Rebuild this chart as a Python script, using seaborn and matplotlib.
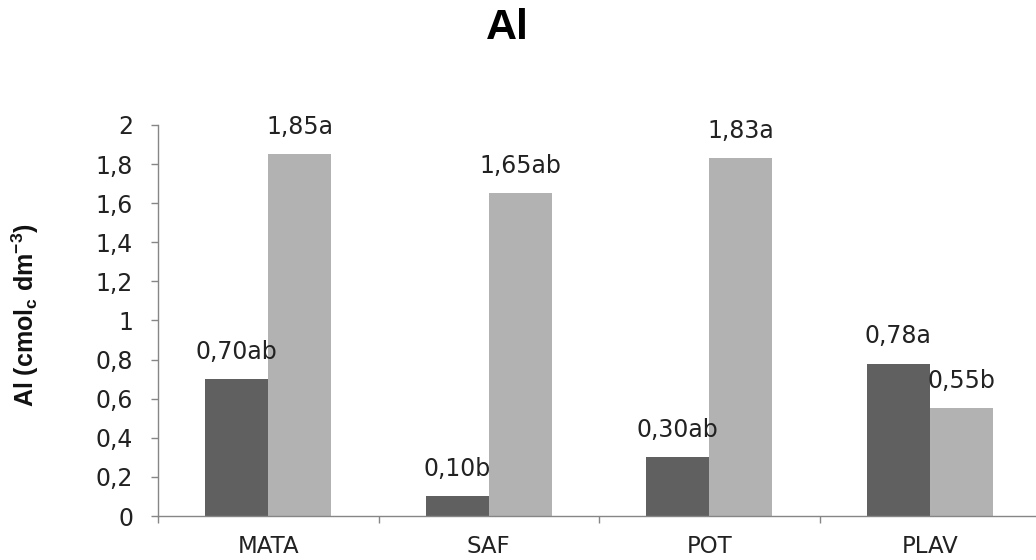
import matplotlib
matplotlib.use("Agg")
import matplotlib.pyplot as plt
import seaborn as sns
import pandas as pd
from matplotlib.ticker import FixedLocator, MultipleLocator, FuncFormatter

categories = ["MATA", "SAF", "POT", "PLAV"]
series_names = ["S1", "S2"]
values_s1 = [0.70, 0.10, 0.30, 0.78]
values_s2 = [1.85, 1.65, 1.83, 0.55]
labels_s1 = ["0,70ab", "0,10b", "0,30ab", "0,78a"]
labels_s2 = ["1,85a", "1,65ab", "1,83a", "0,55b"]
colors = ["#606060", "#b2b2b2"]

df = pd.DataFrame({
    "cat": categories * 2,
    "series": [series_names[0]] * 4 + [series_names[1]] * 4,
    "val": values_s1 + values_s2,
})

sns.set_style("white")
plt.rcParams["font.family"] = ["DejaVu Sans"]
plt.rcParams["mathtext.fontset"] = "custom"
plt.rcParams["mathtext.rm"] = "Liberation Sans"
plt.rcParams["mathtext.bf"] = "Liberation Sans:bold"

fig = plt.figure(figsize=(10.36, 5.6), dpi=100)
ax = fig.add_axes([158 / 1036, 1 - 516 / 560, (1040 - 158) / 1036, (516 - 125) / 560])

sns.barplot(data=df, x="cat", y="val", hue="series", palette=colors,
            width=0.573, dodge=True, legend=False, ax=ax, saturation=1,
            edgecolor="none", linewidth=0, errorbar=None)

for cont, labs in zip(ax.containers, [labels_s1, labels_s2]):
    ax.bar_label(cont, labels=labs, padding=11, fontsize=17, color="#222222")

ax.set_xlim(-0.5, 3.5)
ax.set_ylim(0, 2)
ax.yaxis.set_major_locator(MultipleLocator(0.2))
ax.yaxis.set_major_formatter(FuncFormatter(lambda v, p: ("%g" % round(v, 1)).replace(".", ",")))
ax.xaxis.set_minor_locator(FixedLocator([-0.5, 0.5, 1.5, 2.5, 3.5]))

for s in ["top", "right"]:
    ax.spines[s].set_visible(False)
for s in ["left", "bottom"]:
    ax.spines[s].set_color("#868686")
    ax.spines[s].set_linewidth(1.0)

ax.tick_params(axis="y", which="major", left=True, length=5, width=1, color="#868686",
               direction="out", pad=13, labelsize=17, labelcolor="#222222")
ax.tick_params(axis="x", which="major", bottom=False, length=0, pad=14,
               labelsize=16.5, labelcolor="#222222")
ax.tick_params(axis="x", which="minor", bottom=True, length=5, width=1,
               color="#868686", direction="out")

ax.set_xlabel("")
ax.set_ylabel(r"Al (cmol$_\mathregular{c}$ dm$^\mathregular{-3}$)", fontsize=18,
              fontweight="bold", color="#111111", family="Liberation Sans")
ax.yaxis.set_label_coords(-(158 - 41) / (1040 - 158), 0.514)

fig.text(507 / 1036, 1 - 28 / 560, "Al", ha="center", va="center",
         fontsize=31, fontweight="bold", color="#000000", family="Liberation Sans")

fig.savefig("out.png", dpi=100)
